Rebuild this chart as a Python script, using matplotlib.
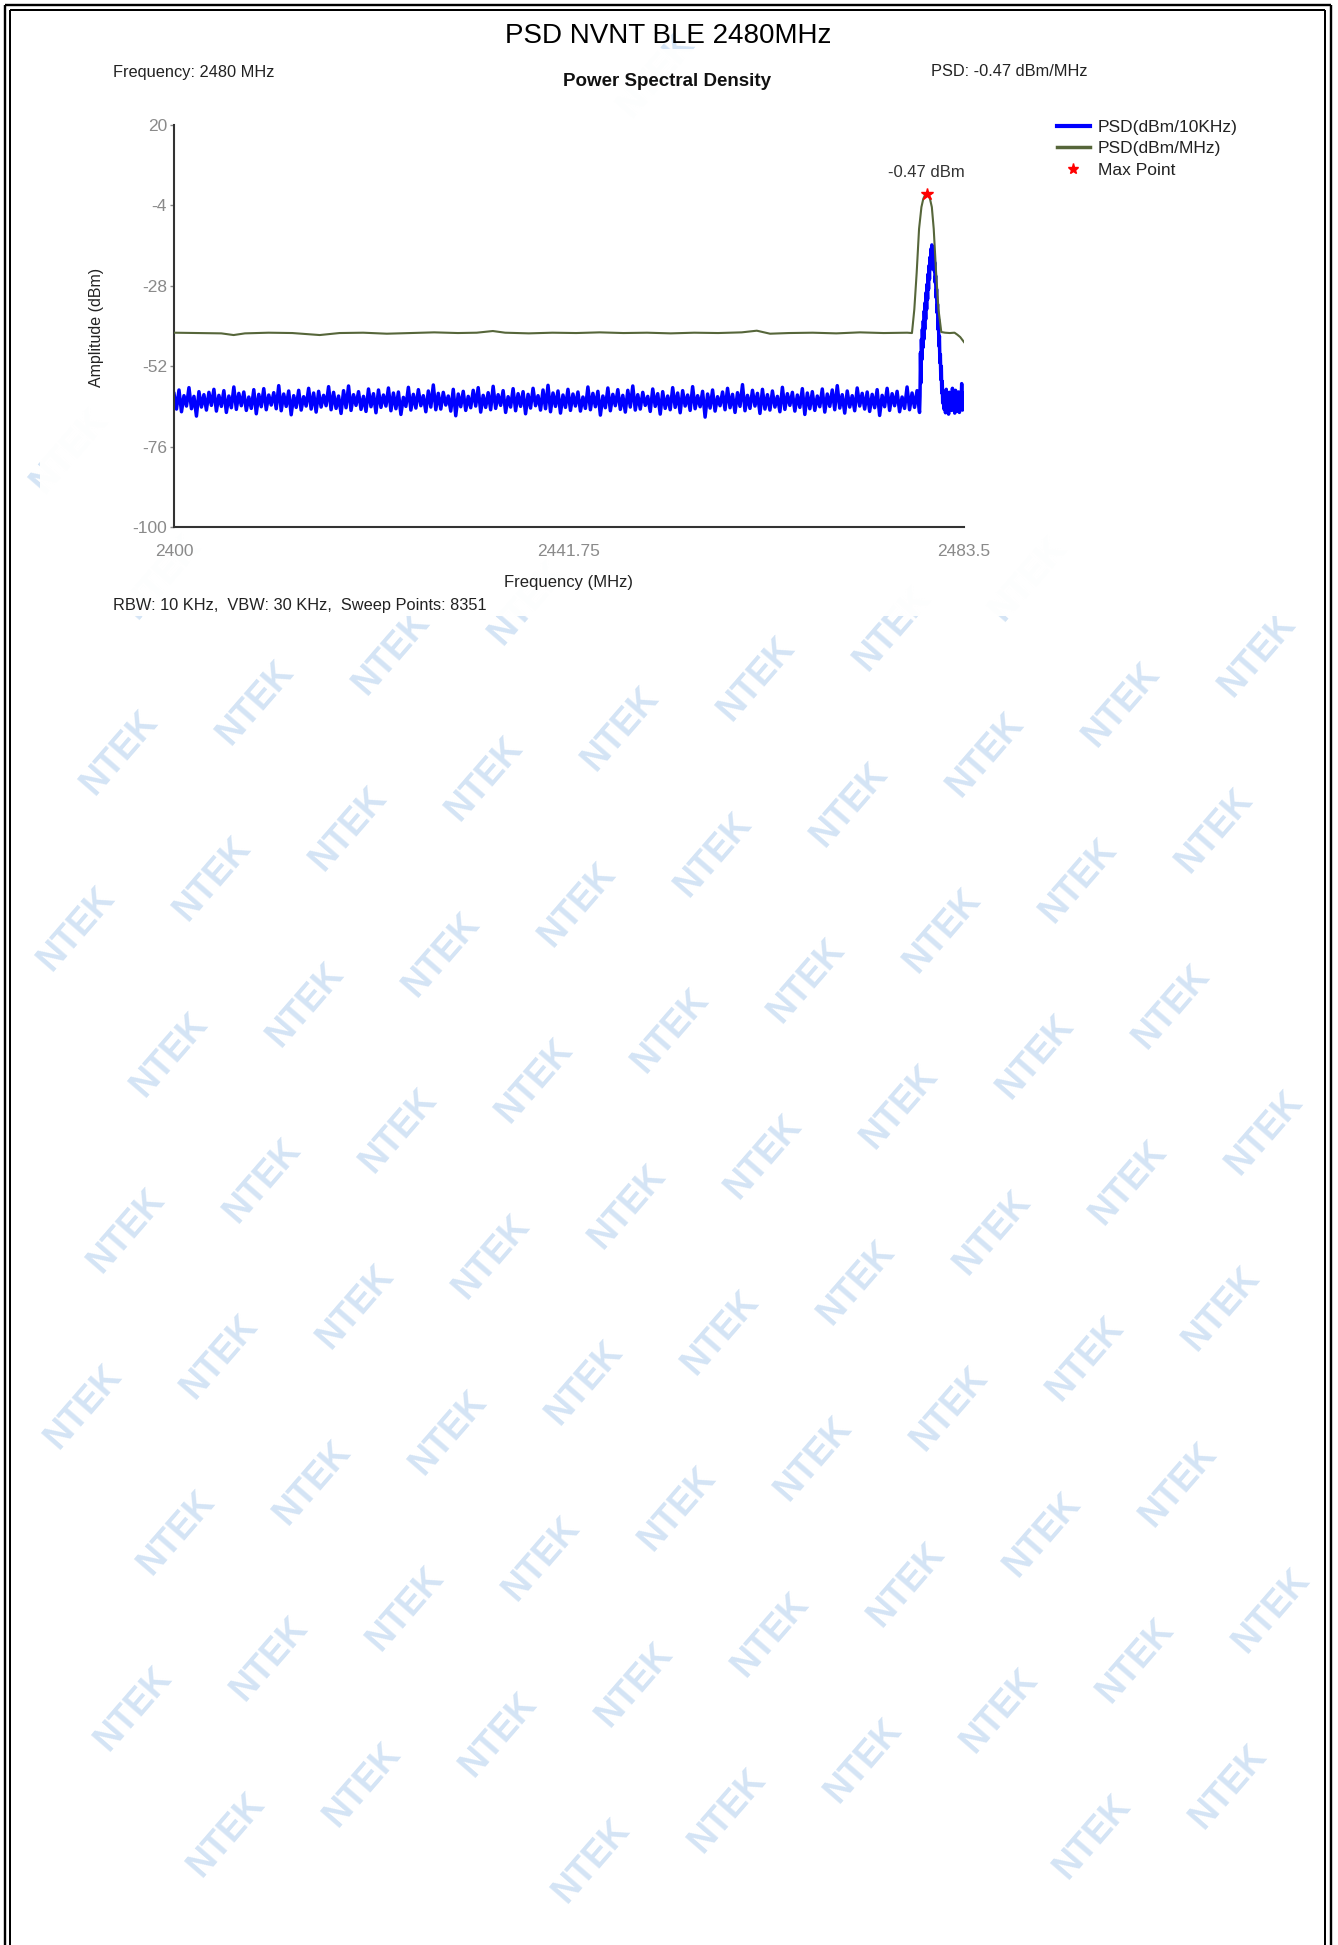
import numpy as np
import matplotlib
matplotlib.use("Agg")
import matplotlib.pyplot as plt
from matplotlib.lines import Line2D
from matplotlib.patches import Rectangle

plt.rcParams['font.family'] = ['Liberation Sans', 'DejaVu Sans']
plt.rcParams['axes.unicode_minus'] = False

# ---- data ----
sweep_start = 2400.0
sweep_stop = 2483.5
x_ticks = [2400, 2441.75, 2483.5]
x_tick_labels = ['2400', '2441.75', '2483.5']
y_ticks = [20, -4, -28, -52, -76, -100]

# PSD (dBm/MHz) trace
green_freq = [2400.0, 2402.5, 2405.0, 2406.3, 2407.5, 2410.0, 2412.5, 2415.4, 2417.5, 2420.0,
              2422.5, 2425.0, 2427.5, 2430.0, 2432.0, 2433.7, 2435.0, 2437.5, 2440.0, 2442.5,
              2445.0, 2447.5, 2450.0, 2452.5, 2455.0, 2457.5, 2460.0, 2461.6, 2463.0, 2465.0,
              2467.5, 2470.0, 2472.5, 2475.0, 2477.5, 2478.0, 2478.25, 2478.5, 2478.75, 2479.0,
              2479.2, 2479.4, 2479.55, 2479.7, 2479.9, 2480.1, 2480.3, 2480.55, 2480.8, 2481.1,
              2481.5, 2482.0, 2482.5, 2482.8, 2483.1, 2483.5]
green_db = [-42.0, -42.1, -42.2, -42.7, -42.2, -42.0, -42.1, -42.7, -42.1, -42.0,
            -42.3, -42.1, -41.9, -42.1, -42.0, -41.5, -42.0, -42.2, -42.0, -42.1,
            -41.9, -42.1, -42.0, -42.2, -42.0, -42.1, -41.9, -41.4, -42.3, -42.1,
            -42.0, -42.2, -41.9, -42.1, -42.0, -42.1, -35.0, -24.0, -11.0, -4.5,
            -2.0, -0.8, -0.47, -0.8, -2.0, -4.5, -11.0, -24.0, -35.0, -41.8,
            -42.0, -42.1, -42.0, -42.6, -43.3, -44.8]

# PSD (dBm/10KHz) trace: noise floor left of the carrier (evenly swept)
blue_noise_left = [
    -60.2, -64.8, -59.1, -65.6, -60.8, -63.9, -58.4, -64.7, -61.0, -66.9, -59.6, -64.2, -60.5, -65.1, -59.8, -63.7, -58.9, -65.4, -60.7, -64.0,
    -59.3, -65.8, -60.9, -64.4, -58.2, -64.9, -60.1, -63.8, -59.7, -65.2, -61.2, -64.6, -59.0, -66.2, -60.4, -64.1, -58.7, -65.0, -60.6, -63.6,
    -59.9, -64.7, -57.8, -65.3, -60.3, -64.0, -59.4, -66.5, -60.8, -64.3, -59.2, -65.1, -61.1, -63.9, -58.6, -64.8, -60.0, -65.7, -59.5, -64.2,
    -60.7, -63.8, -58.1, -65.0, -59.8, -64.6, -60.9, -66.1, -59.3, -64.4, -57.9, -65.2, -60.5, -63.7, -59.6, -64.9, -61.0, -65.5, -58.8, -64.1,
    -60.2, -65.9, -59.1, -64.3, -60.6, -63.9, -58.5, -65.3, -60.0, -64.7, -59.7, -66.4, -61.3, -64.0, -58.3, -65.1, -60.4, -64.5, -59.0, -63.8,
    -60.8, -65.6, -59.4, -64.2, -57.6, -65.0, -60.1, -64.8, -59.8, -63.6, -60.9, -65.4, -58.9, -66.8, -60.3, -64.1, -59.5, -65.2, -61.0, -64.4,
    -59.2, -63.9, -58.4, -65.7, -60.7, -64.3, -59.9, -65.0, -58.0, -64.6, -60.5, -63.7, -59.3, -65.8, -61.1, -64.2, -58.7, -65.3, -60.2, -64.0,
    -59.6, -66.2, -60.4, -64.5, -58.6, -63.8, -60.8, -65.1, -59.1, -64.7, -57.7, -65.6, -60.0, -64.0, -59.4, -66.0, -60.6, -64.3, -58.9, -65.2,
    -60.3, -63.9, -59.7, -65.4, -61.2, -64.6, -58.2, -65.0, -60.1, -64.1, -59.5, -66.6, -60.9, -64.4, -58.5, -65.3, -60.4, -63.8, -59.0, -64.9,
    -60.7, -65.7, -59.2, -64.2, -57.9, -65.1, -60.5, -64.8, -59.8, -63.7, -61.0, -65.5, -58.8, -64.0, -60.2, -66.3, -59.6, -64.6, -60.9, -65.0,
    -58.4, -64.3, -60.0, -65.9, -59.3, -63.9, -60.6, -65.2, -58.1, -64.7, -60.8, -64.1, -59.5, -67.2, -60.3, -64.5, -59.1, -65.4, -61.1, -63.8,
    -59.7, -65.0, -58.6, -64.4, -60.4, -65.8, -59.9, -64.0, -57.5, -65.3, -60.7, -64.6, -59.2, -63.9, -60.1, -66.1, -58.9, -64.8, -60.5, -65.1,
    -59.4, -64.2, -61.0, -65.6, -58.3, -64.9, -60.2, -63.7, -59.8, -65.4, -60.6, -64.3, -58.7, -66.4, -60.0, -64.7, -59.6, -65.2, -60.9, -64.1,
    -58.8, -65.7, -60.3, -64.0, -59.1, -65.0, -57.8, -64.5, -60.5, -66.0, -59.4, -64.2, -60.8, -65.3, -58.5, -63.9, -60.1, -64.8, -59.7, -65.5,
    -60.4, -64.4, -59.0, -66.7, -60.7, -64.1, -58.6, -65.2, -60.2, -63.8, -59.5, -65.6, -61.2, -64.6, -58.2, -65.0, -60.0, -64.3, -59.3, -65.8,
]
noise_left_stop = 2478.8

# carrier region of the blue trace
blue_peak_freq = [2478.85, 2478.90, 2478.95, 2479.00, 2479.05, 2479.10, 2479.15, 2479.20, 2479.25, 2479.30,
                  2479.35, 2479.40, 2479.45, 2479.50, 2479.55, 2479.60, 2479.65, 2479.70, 2479.75, 2479.80,
                  2479.85, 2479.90, 2479.95, 2480.00, 2480.05, 2480.10, 2480.15, 2480.20, 2480.25, 2480.30,
                  2480.35, 2480.40, 2480.45, 2480.50, 2480.55, 2480.60, 2480.65, 2480.70, 2480.75, 2480.80,
                  2480.85, 2480.90, 2480.95, 2481.00, 2481.05, 2481.10, 2481.15, 2481.20, 2481.25]
blue_peak_db = [-61.0, -48.0, -57.0, -44.0, -50.0, -41.0, -46.5, -38.5, -44.0, -35.5,
                -41.0, -33.0, -38.0, -30.0, -35.0, -27.5, -32.0, -24.5, -29.0, -22.0,
                -26.0, -19.5, -23.0, -17.0, -20.5, -15.8, -19.0, -16.5, -20.5, -18.5,
                -23.5, -21.0, -27.0, -25.0, -31.5, -29.0, -36.0, -33.5, -41.0, -38.0,
                -46.0, -43.0, -51.0, -48.5, -56.0, -52.0, -60.0, -56.5, -63.0]

# noise floor right of the carrier
blue_noise_right = [-59.5, -64.8, -60.6, -65.9, -58.9, -64.2, -61.0, -66.3, -59.8, -64.6,
                    -60.4, -65.2, -58.6, -64.0, -60.9, -66.0, -59.2, -65.5, -60.3, -64.4,
                    -59.7, -65.8, -60.8, -64.9, -57.2, -65.1, -59.9, -64.7]
noise_right_start = 2481.3

max_freq = 2479.55
max_db = -0.47

# ---- page geometry (pixels of the 1338x1945 page) ----
W, H = 1338, 1945


def fx(px):
    return px / W


def fy(py):
    return 1 - py / H


fig = plt.figure(figsize=(W / 100, H / 100), dpi=100)
fig.patch.set_facecolor('white')

# chart image box (pixels): left, top, right, bottom
box = (40, 49, 1296, 616)

# watermark stamps on the page, only where a whole stamp fits
for i in range(-4, 14):
    for j in range(-6, 16):
        px = 120 + i * 136 - j * 43
        py = 753 - i * 50 + j * 176
        if not (58 < px < W - 58 and 62 < py < H - 62):
            continue
        if box[0] + 40 < px < box[2] - 40 and box[1] + 40 < py < box[3] - 40:
            continue
        fig.text(fx(px), fy(py), 'NTEK', rotation=49, fontsize=26, weight='bold',
                 color='#d4e4f5', ha='center', va='center', zorder=-3)

# white chart image box over the watermark
fig.add_artist(Rectangle((fx(box[0]), fy(box[3])), fx(box[2]) - fx(box[0]), fy(box[1]) - fy(box[3]),
                         transform=fig.transFigure, facecolor='white', edgecolor='none',
                         alpha=0.97, zorder=-2))

# double frame
for xs, ys, lw in [([4.5, 4.5], [4.5, H], 2.4), ([9.5, 9.5], [10, H], 2.0),
                   ([1330.5, 1330.5], [4.5, H], 2.4), ([1324.8, 1324.8], [10, H], 2.0),
                   ([4.5, 1330.5], [4.5, 4.5], 2.4), ([9.5, 1324.8], [10, 10], 2.0)]:
    fig.add_artist(Line2D([fx(v) for v in xs], [fy(v) for v in ys], transform=fig.transFigure,
                          color='black', lw=lw * 0.72, solid_capstyle='butt', zorder=5))

fig.text(fx(668), fy(36), 'PSD NVNT BLE 2480MHz', fontsize=20, ha='center', va='center', color='black')
fig.text(fx(667), fy(81), 'Power Spectral Density', fontsize=13.5, weight='bold',
         ha='center', va='center', color='#111111')
fig.text(fx(113), fy(72), 'Frequency: 2480 MHz', fontsize=11.8, ha='left', va='center', color='#222222')
fig.text(fx(931), fy(72), 'PSD: -0.47 dBm/MHz', fontsize=11.8, ha='left', va='center', color='#222222')
fig.text(fx(113), fy(605), 'RBW: 10 KHz,  VBW: 30 KHz,  Sweep Points: 8351', fontsize=11.8,
         ha='left', va='center', color='#222222')

# ---- the chart ----
ax = fig.add_axes([fx(174), fy(527), (964 - 174) / W, (527 - 125) / H])
ax.patch.set_alpha(0)

blue_freq = np.concatenate([np.linspace(sweep_start, noise_left_stop, len(blue_noise_left)),
                            blue_peak_freq,
                            np.linspace(noise_right_start, sweep_stop, len(blue_noise_right))])
blue_db = np.concatenate([blue_noise_left, blue_peak_db, blue_noise_right])

ax.plot(blue_freq, blue_db, color='#0000ff', lw=2.5, zorder=2)
ax.plot(green_freq, green_db, color='#56663a', lw=1.5, zorder=3)
ax.plot([max_freq], [max_db], marker='*', color='red', ms=9, ls='none', zorder=4)
ax.annotate('-0.47 dBm', xy=(max_freq, max_db), xytext=(0, 15), textcoords='offset points',
            ha='center', va='center', fontsize=12, color='#333333')

ax.set_xlim(sweep_start, sweep_stop)
ax.set_ylim(-100, 20)
ax.set_xticks(x_ticks)
ax.set_xticklabels(x_tick_labels)
ax.set_yticks(y_ticks)
ax.tick_params(axis='x', length=0, pad=12, labelsize=12.5, labelcolor='#8a8a8a')
ax.tick_params(axis='y', length=3, width=1, color='#8a8a8a', pad=2, labelsize=12.5, labelcolor='#8a8a8a')
for side in ['top', 'right']:
    ax.spines[side].set_visible(False)
for side in ['left', 'bottom']:
    ax.spines[side].set_color('#333333')
    ax.spines[side].set_linewidth(1.5)

ax.set_xlabel('Frequency (MHz)', fontsize=12, color='#222222')
ax.xaxis.label.set_va('center')
ax.xaxis.set_label_coords((569 - 174) / 790, (527 - 582) / 402)
ax.set_ylabel('Amplitude (dBm)', fontsize=11.5, color='#222222')
ax.yaxis.label.set_va('center')
ax.yaxis.set_label_coords((97 - 174) / 790, (527 - 327) / 402)

handles = [Line2D([], [], color='#0000ff', lw=3),
           Line2D([], [], color='#56663a', lw=2.5),
           Line2D([], [], color='red', marker='*', ms=8, ls='none')]
labels = ['PSD(dBm/10KHz)', 'PSD(dBm/MHz)', 'Max Point']
leg = ax.legend(handles, labels, loc='upper left', bbox_to_anchor=(fx(1057), fy(119.5)),
                bbox_transform=fig.transFigure, frameon=False, fontsize=12.5,
                handlelength=1.9, handletextpad=0.45, labelspacing=0.38,
                borderaxespad=0, borderpad=0)
for t in leg.get_texts():
    t.set_color('#222222')

fig.savefig('out.png', dpi=100)
